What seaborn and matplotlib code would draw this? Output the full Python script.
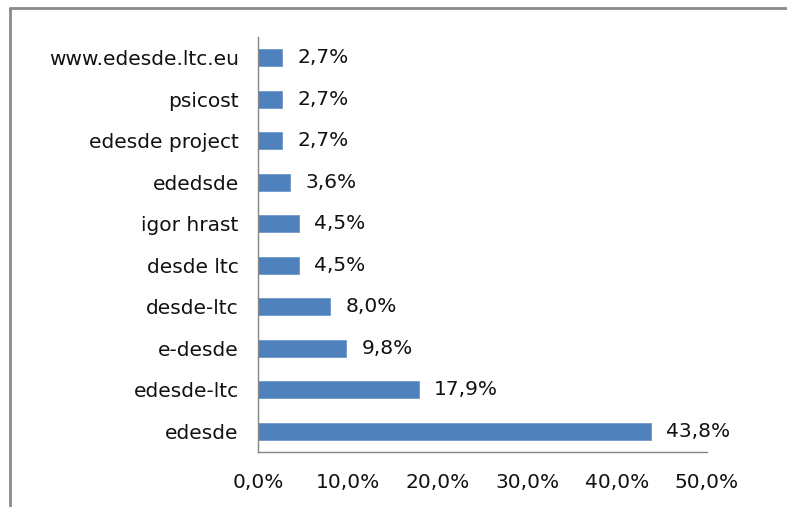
import matplotlib
matplotlib.use("Agg")
import matplotlib.pyplot as plt
import seaborn as sns
import pandas as pd
from matplotlib.lines import Line2D

# Dados (de cima para baixo)
termos = ["www.edesde.ltc.eu", "psicost", "edesde project", "ededsde", "igor hrast",
          "desde ltc", "desde-ltc", "e-desde", "edesde-ltc", "edesde"]
valores = [2.7, 2.7, 2.7, 3.6, 4.5, 4.5, 8.0, 9.8, 17.9, 43.8]
ticks_x = [0, 10, 20, 30, 40, 50]

df = pd.DataFrame({"termo": termos, "pct": valores})

sns.set_style("white")
plt.rcParams["font.family"] = ["DejaVu Sans"]

cor_barra = "#4F81BD"
cor_eixo = "#868686"
tam_fonte = 14.5

fig = plt.figure(figsize=(7.87, 5.07), dpi=100)
ax = fig.add_axes([0.328, 0.1085, 0.57, 0.8185])

sns.barplot(data=df, y="termo", x="pct", order=termos, color=cor_barra,
            saturation=1, width=0.4, edgecolor="#6d97cc", linewidth=0.6, ax=ax)

# rótulos de valor
for i, v in enumerate(valores):
    ax.text(v + 1.7, i, f"{v:.1f}%".replace(".", ","), va="center", ha="left",
            fontsize=tam_fonte, color="#111111")

ax.set_xlim(0, 50)
ax.set_xticks(ticks_x)
ax.set_xticklabels([f"{t:.1f}%".replace(".", ",") for t in ticks_x], fontsize=tam_fonte,
                   color="#111111")
ax.set_ylim(len(termos) - 0.5, -0.5)

# marcas do eixo y nas fronteiras das categorias
ax.set_yticks([i - 0.5 for i in range(len(termos) + 1)])
ax.set_yticklabels([])
ax.set_yticks(range(len(termos)), minor=True)
ax.set_yticklabels(termos, minor=True, fontsize=tam_fonte, color="#111111")
ax.tick_params(axis="y", which="minor", length=0, pad=14)
ax.tick_params(axis="y", which="major", length=6, color=cor_eixo, direction="out")
ax.tick_params(axis="x", length=6, color=cor_eixo, direction="out", pad=9)

ax.set_xlabel("")
ax.set_ylabel("")
for s in ["top", "right"]:
    ax.spines[s].set_visible(False)
for s in ["left", "bottom"]:
    ax.spines[s].set_color(cor_eixo)
    ax.spines[s].set_linewidth(1)

# moldura do gráfico (esquerda e topo)
fig.add_artist(Line2D([10 / 787, 10 / 787], [0, 1 - 8 / 507], transform=fig.transFigure,
                      color="#8a8a8a", linewidth=2))
fig.add_artist(Line2D([10 / 787, 1], [1 - 8 / 507, 1 - 8 / 507], transform=fig.transFigure,
                      color="#8a8a8a", linewidth=2))

fig.savefig("out.png", dpi=100)
